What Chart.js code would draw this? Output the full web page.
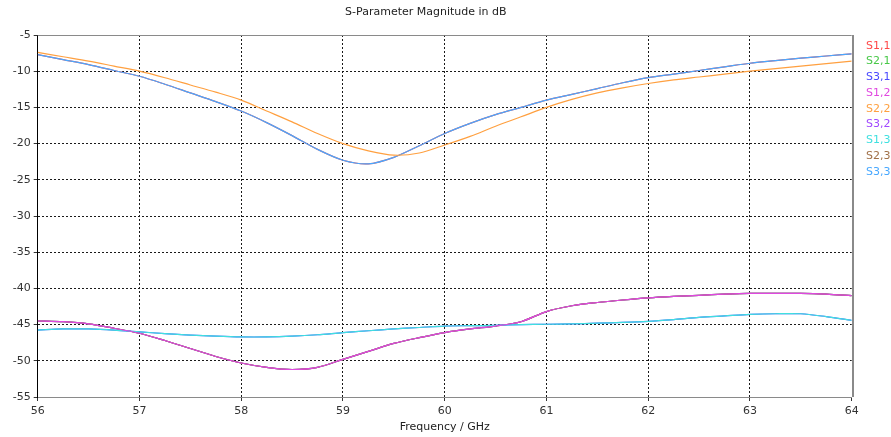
<!DOCTYPE html>
<html>
<head>
<meta charset="utf-8">
<script src="https://cdn.jsdelivr.net/npm/chart.js@4"></script>
<style>
  html, body { margin: 0; padding: 0; background: #fff; }
  #wrap { position: relative; width: 891px; height: 437px; }
  #legend { position: absolute; left: 866px; top: 37.5px; font: 11px "DejaVu Sans"; line-height: 15.8px; }
</style>
</head>
<body>
<div id="wrap">
  <canvas id="sparamChart" width="891" height="437"></canvas>
  <div id="legend"></div>
</div>
<script>
// frequency points (GHz)
const freq = [56, 56.25, 56.5, 56.75, 57, 57.25, 57.5, 57.75, 58, 58.25, 58.5, 58.75, 59, 59.25, 59.5, 59.75,
              60, 60.25, 60.5, 60.75, 61, 61.25, 61.5, 61.75, 62, 62.25, 62.5, 62.75, 63, 63.25, 63.5, 63.75, 64];

// reflection, ports 1 and 3 (they lie on top of each other)
const s11 = [-7.7, -8.4, -9.1, -9.9, -10.7, -11.8, -13.0, -14.2, -15.5, -17.1, -18.9, -20.8, -22.3, -22.8, -21.9, -20.3,
             -18.6, -17.2, -16.0, -15.0, -14.0, -13.2, -12.4, -11.6, -10.9, -10.4, -9.9, -9.4, -8.9, -8.55, -8.2, -7.9, -7.6];
const s33 = s11;

// reflection, port 2
const s22 = [-7.4, -8.0, -8.6, -9.3, -10.0, -10.9, -11.9, -12.9, -14.0, -15.5, -17.0, -18.6, -20.0, -21.0, -21.6, -21.3,
             -20.2, -19.0, -17.6, -16.3, -15.0, -13.9, -13.0, -12.3, -11.7, -11.2, -10.8, -10.4, -10.0, -9.65, -9.3, -8.95, -8.6];

// transmission to/from port 2
const s12 = [-44.5, -44.6, -44.9, -45.5, -46.2, -47.2, -48.3, -49.4, -50.3, -50.9, -51.2, -50.9, -49.8, -48.7, -47.6, -46.8,
             -46.1, -45.6, -45.2, -44.6, -43.2, -42.4, -41.95, -41.6, -41.3, -41.1, -40.95, -40.8, -40.7, -40.7, -40.7, -40.8, -41.0];
const s21 = s12, s32 = s12, s23 = s12;

// transmission between ports 1 and 3
const s13 = [-45.75, -45.6, -45.6, -45.75, -46.0, -46.25, -46.45, -46.6, -46.7, -46.7, -46.6, -46.4, -46.1, -45.85, -45.6, -45.4,
             -45.2, -45.15, -45.1, -45.0, -44.95, -44.9, -44.8, -44.7, -44.55, -44.3, -44.0, -43.8, -43.6, -43.5, -43.5, -43.9, -44.4];
const s31 = s13;

const labels = ['S1,1', 'S2,1', 'S3,1', 'S1,2', 'S2,2', 'S3,2', 'S1,3', 'S2,3', 'S3,3'];
const series = [s11, s21, s31, s12, s22, s32, s13, s23, s33];
const colors = ['#ff4848', '#48c848', '#4848ff', '#e048e0', '#ffa040', '#a048ff', '#40e0e0', '#a07048', '#48a8ff'];
// drawing order: lower is on top
const drawOrder = [2, 3, 1, 0, 0, 2, 0, 1, 0];

const FONT = 'DejaVu Sans';

const datasets = labels.map((name, i) => ({
  label: name,
  data: freq.map((f, k) => ({x: f, y: series[i][k]})),
  borderColor: colors[i],
  backgroundColor: colors[i],
  borderWidth: 1.2,
  pointRadius: 0,
  tension: 0.3,
  order: drawOrder[i]
}));

// top and right frame lines
const framePlugin = {
  id: 'frame',
  beforeDatasetsDraw(chart) {
    const {ctx, chartArea: a} = chart;
    ctx.save();
    ctx.strokeStyle = '#8a8a8a';
    ctx.lineWidth = 1;
    ctx.beginPath();
    ctx.moveTo(a.left, Math.round(a.top) + 0.5);
    ctx.lineTo(a.right, Math.round(a.top) + 0.5);
    ctx.stroke();
    ctx.lineWidth = 2;
    ctx.beginPath();
    ctx.moveTo(Math.round(a.right) + 1, a.top);
    ctx.lineTo(Math.round(a.right) + 1, a.bottom);
    ctx.stroke();
    ctx.restore();
  }
};

const edgeHidden = (vals) => (c) => (c.tick && vals.includes(c.tick.value)) ? 'rgba(0,0,0,0)' : '#1a1a1a';

const config = {
  type: 'line',
  data: {datasets: datasets},
  options: {
    responsive: false,
    animation: false,
    layout: {padding: {left: 0, right: 39.3, top: 0, bottom: 0}},
    plugins: {
      legend: {display: false},
      tooltip: {enabled: false},
      title: {
        display: true,
        text: 'S-Parameter Magnitude in dB',
        color: '#222',
        font: {family: FONT, size: 11, weight: 'normal'},
        padding: {top: 6, bottom: 15.8}
      }
    },
    scales: {
      x: {
        type: 'linear',
        min: 56,
        max: 64,
        afterFit(scale) { scale.height = 40; },
        ticks: {stepSize: 1, color: '#333', padding: 4, maxRotation: 0,
                font: {family: FONT, size: 11}},
        grid: {color: edgeHidden([56, 64]), tickColor: '#333', tickLength: 4,
               tickBorderDash: [], borderDash: [2, 2]},
        border: {color: '#8a8a8a', width: 1, dash: [2, 2]},
        title: {display: true, text: 'Frequency / GHz', color: '#222',
                font: {family: FONT, size: 11}, padding: {top: 0, bottom: 3}}
      },
      y: {
        min: -55,
        max: -5,
        afterFit(scale) { scale.width = 37.7; },
        ticks: {stepSize: 5, color: '#333', padding: 3,
                font: {family: FONT, size: 11}},
        grid: {color: edgeHidden([-55, -5]), tickColor: '#333', tickLength: 4,
               tickBorderDash: [], borderDash: [2, 2]},
        border: {color: '#000', width: 1, dash: [2, 2]}
      }
    }
  },
  plugins: [framePlugin]
};

const sparamChart = new Chart(document.getElementById('sparamChart'), config);

// legend: coloured text only
const legendEl = document.getElementById('legend');
labels.forEach((name, i) => {
  const row = document.createElement('div');
  row.textContent = name;
  row.style.color = colors[i];
  legendEl.appendChild(row);
});
</script>
</body>
</html>
